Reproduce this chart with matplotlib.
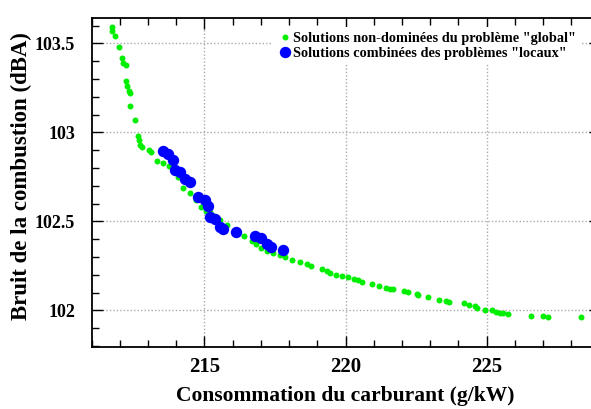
import matplotlib
matplotlib.use("Agg")
import matplotlib.pyplot as plt
from matplotlib.ticker import MultipleLocator

plt.rcParams['font.family'] = ['Liberation Serif', 'DejaVu Serif']
plt.rcParams['font.weight'] = 'bold'

# Non-dominated solutions of the "global" problem
global_x = [211.72, 211.74, 211.82, 211.97, 212.07, 212.11, 212.21, 212.22, 212.27,
            212.33, 212.35, 212.36, 212.55, 212.65, 212.67, 212.73, 212.80, 213.04,
            213.09, 213.30, 213.53, 213.74, 213.90, 214.06, 214.24, 214.48, 214.70,
            214.89, 215.05, 215.19, 215.35, 215.54, 215.80, 216.07, 216.39, 216.67,
            216.84, 217.02, 217.20, 217.43, 217.67, 217.85, 218.09, 218.38, 218.62,
            218.76, 219.15, 219.33, 219.44, 219.66, 219.89, 220.07, 220.29, 220.45,
            220.59, 220.92, 221.18, 221.45, 221.57, 221.69, 222.07, 222.22, 222.54,
            222.57, 222.93, 223.32, 223.55, 223.66, 224.21, 224.36, 224.59, 224.65,
            224.94, 225.18, 225.33, 225.47, 225.59, 225.77, 226.56, 227.01, 227.18,
            228.33]
global_y = [103.59, 103.57, 103.54, 103.48, 103.42, 103.39, 103.38, 103.29, 103.26,
            103.23, 103.22, 103.15, 103.07, 102.98, 102.955, 102.93, 102.92, 102.90,
            102.89, 102.84, 102.83, 102.81, 102.79, 102.75, 102.69, 102.66, 102.62,
            102.58, 102.56, 102.55, 102.53, 102.51, 102.48, 102.45, 102.42, 102.39,
            102.37, 102.35, 102.335, 102.32, 102.31, 102.30, 102.285, 102.27, 102.26,
            102.25, 102.23, 102.22, 102.21, 102.20, 102.195, 102.187, 102.174, 102.169,
            102.161, 102.15, 102.139, 102.128, 102.122, 102.118, 102.108, 102.101, 102.094,
            102.084, 102.073, 102.06, 102.051, 102.045, 102.041, 102.032, 102.022, 102.013,
            102.002, 102.0, 101.989, 101.985, 101.985, 101.978, 101.97, 101.968, 101.962,
            101.961]

# Combined solutions of the "local" problems
local_x = [213.53, 213.71, 213.89, 213.95, 214.12, 214.30, 214.48, 214.77, 215.01,
           215.13, 215.19, 215.37, 215.54, 215.66, 216.13, 216.78, 217.02, 217.20,
           217.34, 217.77]
local_y = [102.895, 102.88, 102.847, 102.787, 102.777, 102.74, 102.72, 102.637, 102.618,
           102.584, 102.524, 102.515, 102.468, 102.459, 102.44, 102.42, 102.408, 102.375,
           102.356, 102.337]

x_ticks = [215, 220, 225]
x_ticklabels = ['215', '220', '225']
y_ticks = [102, 102.5, 103, 103.5]
y_ticklabels = ['102', '102.5', '103', '103.5']

fig = plt.figure(figsize=(5.91, 4.09), dpi=100)
ax = fig.add_axes([0.155, 0.152, 1.0144 - 0.155, 0.955 - 0.152])

ax.plot(global_x, global_y, linestyle='none', marker='o', markersize=4.3,
        color='#00ee00', markeredgewidth=0, zorder=3,
        label='Solutions non-dominées du problème "global"')
ax.plot(local_x, local_y, linestyle='none', marker='o', markersize=8.2,
        color='#0000ff', markeredgewidth=0, zorder=4,
        label='Solutions combinées des problèmes "locaux"')

ax.set_xlim(211, 229)
ax.set_ylim(101.795, 103.64)
ax.xaxis.set_minor_locator(MultipleLocator(1))
ax.yaxis.set_minor_locator(MultipleLocator(0.1))
ax.set_xticks(x_ticks)
ax.set_xticklabels(x_ticklabels)
ax.set_yticks(y_ticks)
ax.set_yticklabels(y_ticklabels)

ax.tick_params(which='both', direction='in', top=True, right=True, width=1.0)
ax.tick_params(which='major', length=8)
ax.tick_params(which='minor', length=5)
ax.tick_params(axis='x', which='major', labelsize=15, pad=7)
ax.tick_params(axis='y', which='major', labelsize=13, pad=12)
for lbl in ax.get_xticklabels() + ax.get_yticklabels():
    lbl.set_fontweight('bold')

ax.grid(True, which='major', linestyle=(0, (1, 1.5)), color='#aaaaaa', linewidth=1.0, zorder=0)
ax.set_axisbelow(True)
for s in ax.spines.values():
    s.set_linewidth(1.3)

ax.set_xlabel('Consommation du carburant (g/kW)', fontsize=15.5, fontweight='bold', labelpad=7)
ax.set_ylabel('Bruit de la combustion (dBA)', fontsize=16.5, fontweight='bold')
ax.yaxis.set_label_coords(-0.118, 0.521)

leg = ax.legend(loc='upper left', bbox_to_anchor=(0.358, 0.9726), frameon=True,
                fontsize=10.3, handletextpad=0.05, borderpad=0.3, labelspacing=0.15,
                handlelength=1.0, borderaxespad=0)
leg.get_frame().set_edgecolor('none')
leg.get_frame().set_facecolor('white')
leg.get_frame().set_alpha(1.0)
leg.get_frame().set_boxstyle('square', pad=0)
for t in leg.get_texts():
    t.set_fontweight('bold')

fig.savefig('out.png', dpi=100)
